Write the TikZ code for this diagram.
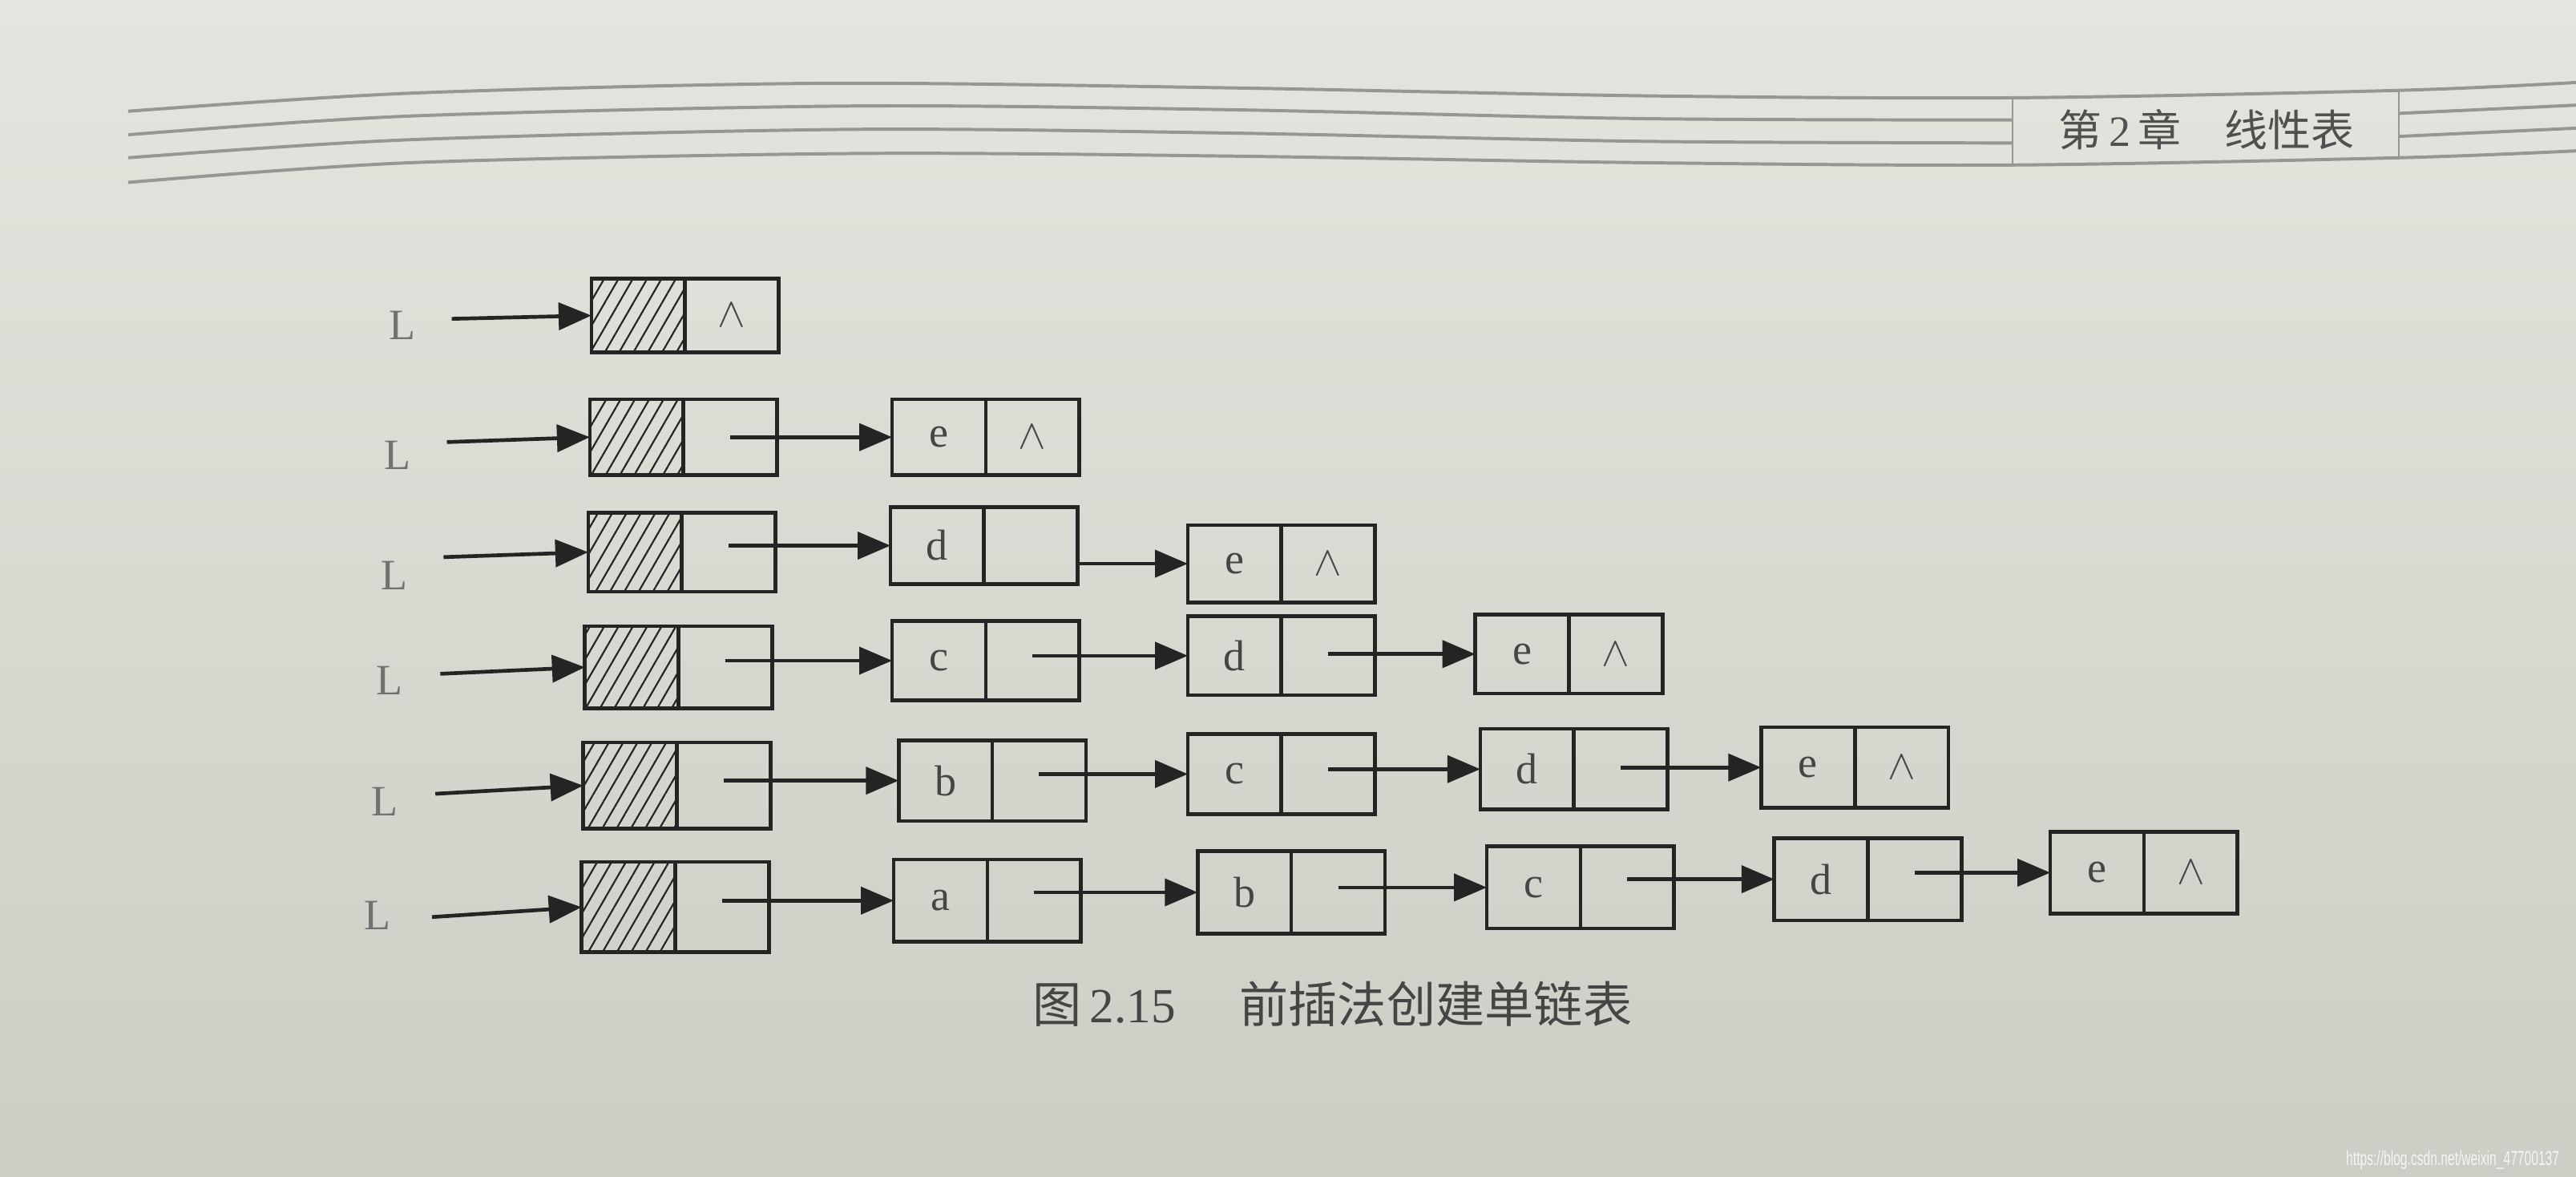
\documentclass[tikz,border=0pt]{standalone}
\usepackage{fontspec}
\setmainfont{Liberation Serif}
\setsansfont{Liberation Sans}
\newfontfamily\cjk{Noto Sans CJK SC}
\usetikzlibrary{arrows.meta,patterns.meta}
\definecolor{paper}{RGB}{204,206,197}
\definecolor{papertop}{RGB}{228,229,222}
\definecolor{ink}{RGB}{36,36,36}
\definecolor{rulec}{RGB}{150,150,147}
\newcommand\mkcell[5]{%
  \node[cell,anchor=east] (#1d) at (#2,#3) {#4};
  \node[cell,anchor=west] (#1p) at (#2,#3) {#5};}
\newcommand\mkhead[5]{%
  \node[hatch,anchor=east,minimum height=#4] (#1d) at (#2,#3) {};
  \node[cell,anchor=west,minimum height=#4] (#1p) at (#2,#3) {#5};}
\newcommand\mklink[2]{\draw[link] (#1.center |- #2.west) -- (#2.west);}
\begin{document}
\begin{tikzpicture}[x=0.02cm,y=-0.02cm,
  cell/.style={draw=ink,line width=1.3pt,minimum width=1.14cm,minimum height=0.94cm,
    inner sep=0pt,outer sep=0pt,font=\fontsize{15}{17}\selectfont,text=ink!85},
  hatch/.style={cell,pattern={Lines[angle=60,distance=4.3pt,line width=0.6pt]},pattern color=ink},
  link/.style={draw=ink,line width=1.3pt,-{Triangle[length=0.4cm,width=0.33cm]}},
  lab/.style={font=\fontsize{15}{18}\selectfont,text=ink!65},
  hline/.style={draw=rulec,line width=1.1pt}]
\shade[top color=papertop,bottom color=paper] (0,0) rectangle (1568,716);
\useasboundingbox (0,0) rectangle (1568,716);
% header rules
\draw[hline] plot[smooth] coordinates {(78,67.7) (250,56.7) (500,50.7) (750,53.5) (1000,58.3) (1225,59.5) (1460,55) (1568,50.2)};
\draw[hline] plot[smooth] coordinates {(78,82) (250,70.6) (520,64.5) (750,66.8) (1000,72.2) (1225,73)};
\draw[hline] plot[smooth] coordinates {(1460,69) (1568,64)};
\draw[hline] plot[smooth] coordinates {(78,96) (250,85) (520,78.7) (750,81) (1000,86) (1225,87)};
\draw[hline] plot[smooth] coordinates {(1460,83) (1568,78)};
\draw[hline] plot[smooth] coordinates {(78,111) (250,99) (520,93.4) (750,95) (1000,99) (1225,100.4) (1460,96) (1568,91.8)};
\draw[draw=rulec,line width=0.6pt] (1225,59.5) -- (1225,100.4);
\draw[draw=rulec,line width=0.6pt] (1460,55) -- (1460,96);
\node[font=\fontsize{15}{18}\selectfont,text=ink!80] (hdr) at (1343,79) {{\cjk 第}\,2\,{\cjk 章}\quad{\cjk 线性表}};
% row 1
\mkhead{ra}{417}{192}{0.9cm}{$\wedge$}
\node[lab] (La) at (245,198) {L};
\coordinate (sa) at (275,194);
\draw[link] (sa) -- (rad.west);
% row 2
\begin{scope}[cell/.append style={minimum height=0.92cm}]
\mkhead{rb}{416}{266}{0.92cm}{}
\mkcell{rbe}{600}{266}{e}{$\wedge$}
\end{scope}
\node[lab] (Lb) at (242,277) {L};
\coordinate (sb) at (272,269);
\draw[link] (sb) -- (rbd.west);
\mklink{rbp}{rbed}
% row 3
\begin{scope}[cell/.append style={minimum height=0.94cm}]
\mkhead{rc}{415}{336}{0.96cm}{}
\mkcell{rcd}{599}{332}{d}{}
\mkcell{rce}{780}{343}{e}{$\wedge$}
\end{scope}
\node[lab] (Lc) at (240,350) {L};
\coordinate (sc) at (270,339);
\draw[link] (sc) -- (rcd.west);
\mklink{rcp}{rcdd}
\draw[link] (rcdp.east |- rced.west) -- (rced.west);
% row 4
\begin{scope}[cell/.append style={minimum height=0.96cm}]
\mkhead{rd}{413}{406}{1.0cm}{}
\mkcell{rdc}{600}{402}{c}{}
\mkcell{rdd}{780}{399}{d}{}
\mkcell{rde}{955}{398}{e}{$\wedge$}
\end{scope}
\node[lab] (Ld) at (237,414) {L};
\coordinate (sd) at (268,410);
\draw[link] (sd) -- (rdd.west);
\mklink{rdp}{rdcd}
\mklink{rdcp}{rddd}
\mklink{rddp}{rded}
% row 5
\begin{scope}[cell/.append style={minimum height=0.98cm}]
\mkhead{re}{412}{478}{1.05cm}{}
\mkcell{reb}{604}{475}{b}{}
\mkcell{rec}{780}{471}{c}{}
\mkcell{red}{958}{468}{d}{}
\mkcell{ree}{1129}{467}{e}{$\wedge$}
\end{scope}
\node[lab] (Le) at (234,488) {L};
\coordinate (se) at (265,483);
\draw[link] (se) -- (red.west);
\mklink{rep}{rebd}
\mklink{rebp}{recd}
\mklink{recp}{redd}
\mklink{redp}{reed}
% row 6
\begin{scope}[cell/.append style={minimum height=1.0cm}]
\mkhead{rf}{411}{552}{1.1cm}{}
\mkcell{rfa}{601}{548}{a}{}
\mkcell{rfb}{786}{543}{b}{}
\mkcell{rfc}{962}{540}{c}{}
\mkcell{rfd}{1137}{535}{d}{}
\mkcell{rfe}{1305}{531}{e}{$\wedge$}
\end{scope}
\node[lab] (Lf) at (230,557) {L};
\coordinate (sf) at (263,558);
\draw[link] (sf) -- (rfd.west);
\mklink{rfp}{rfad}
\mklink{rfap}{rfbd}
\mklink{rfbp}{rfcd}
\mklink{rfcp}{rfdd}
\mklink{rfdp}{rfed}
% caption
\node[font=\fontsize{17}{20}\selectfont,text=ink!85] (cap) at (811,611) {{\cjk 图}\,2.15\hspace{1.3em}{\cjk 前插法创建单链表}};
% watermark
\node[anchor=east,text=white!92!gray,font=\sffamily\fontsize{7}{8}\selectfont] (wm) at (1564,706) {\scalebox{0.62}[1]{https://blog.csdn.net/weixin\_47700137}};
\end{tikzpicture}
\end{document}
